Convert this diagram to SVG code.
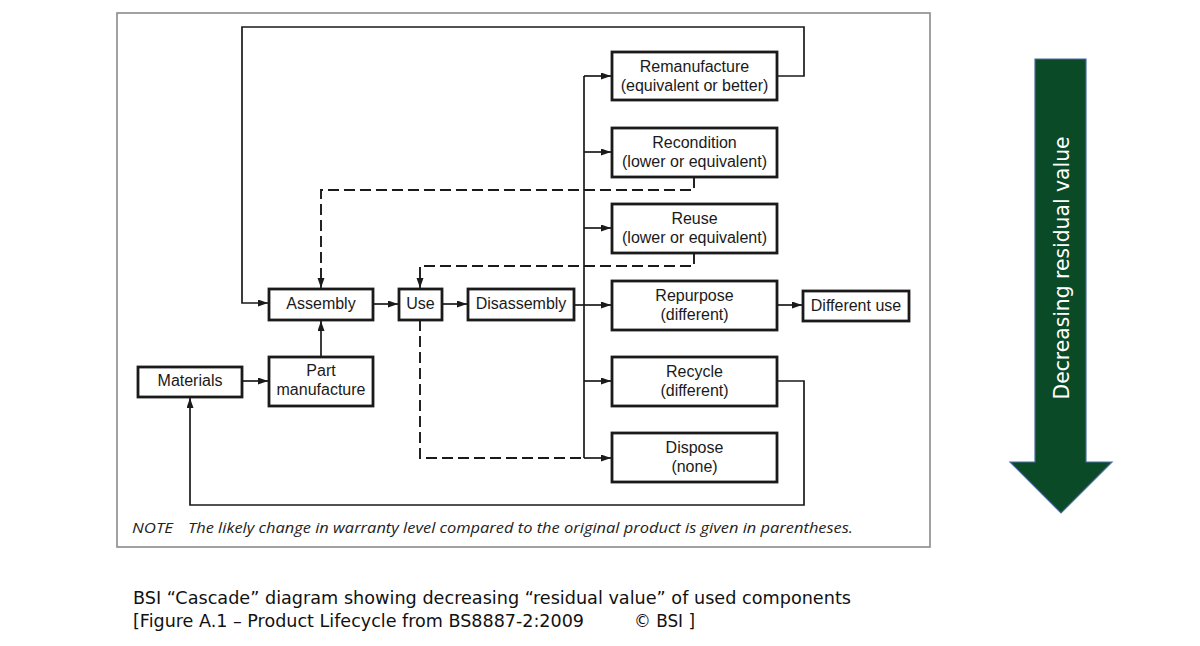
<svg xmlns="http://www.w3.org/2000/svg" width="1200" height="646" viewBox="0 0 1200 646">
<style>
.box{fill:#fff;stroke:#1a1a1a;stroke-width:2.8}
.t{font-family:"Liberation Sans",Arial,sans-serif;font-size:16px;fill:#1a1a1a;text-anchor:middle}
.c{fill:none;stroke:#1a1a1a;stroke-width:1.7}
.d{fill:none;stroke:#1a1a1a;stroke-width:1.9;stroke-dasharray:11 5}
.cap{font-family:"DejaVu Sans",Verdana,sans-serif;font-size:18.5px;fill:#111}
</style>
<defs>
<marker id="ah" markerUnits="userSpaceOnUse" markerWidth="11" markerHeight="8" refX="10" refY="3.5" orient="auto">
<path d="M0,0 L10,3.5 L0,7 z" fill="#1a1a1a"/>
</marker>
</defs>
<rect width="1200" height="646" fill="#fff"/>
<rect x="117" y="13" width="813" height="534" fill="none" stroke="#8a8a8a" stroke-width="1.6"/>

<g id="connectors">
<path class="c" d="M777,76 H804 V27 H242 V303 H268" marker-end="url(#ah)"/>
<path class="c" d="M373,304 H398" marker-end="url(#ah)"/>
<path class="c" d="M442,304 H467" marker-end="url(#ah)"/>
<path class="c" d="M574,305 H584"/>
<path class="c" d="M584,76 V458"/>
<path class="c" d="M584,76 H611" marker-end="url(#ah)"/>
<path class="c" d="M584,152 H611" marker-end="url(#ah)"/>
<path class="c" d="M584,228 H611" marker-end="url(#ah)"/>
<path class="c" d="M584,305 H611" marker-end="url(#ah)"/>
<path class="c" d="M584,381 H611" marker-end="url(#ah)"/>
<path class="c" d="M584,458 H611" marker-end="url(#ah)"/>
<path class="d" d="M694,177 V190 H321 V278"/>
<path class="c" d="M321,278 V288" marker-end="url(#ah)"/>
<path class="d" d="M694,253 V266 H420 V278"/>
<path class="c" d="M420,278 V288" marker-end="url(#ah)"/>
<path class="d" d="M420,320 V458 H584"/>
<path class="c" d="M321,357 V321" marker-end="url(#ah)"/>
<path class="c" d="M242,381 H268" marker-end="url(#ah)"/>
<path class="c" d="M777,381 H804 V505 H190 V398" marker-end="url(#ah)"/>
<path class="c" d="M777,305 H802" marker-end="url(#ah)"/>
</g>

<g id="remanufacture"><rect class="box" x="612" y="52" width="165" height="48"/><text class="t" x="694.5" y="71.5">Remanufacture</text><text class="t" x="694.5" y="91">(equivalent or better)</text></g>
<g id="recondition"><rect class="box" x="612" y="128" width="165" height="49"/><text class="t" x="694.5" y="147.5">Recondition</text><text class="t" x="694.5" y="167">(lower or equivalent)</text></g>
<g id="reuse"><rect class="box" x="612" y="204" width="165" height="49"/><text class="t" x="694.5" y="223.5">Reuse</text><text class="t" x="694.5" y="243">(lower or equivalent)</text></g>
<g id="repurpose"><rect class="box" x="612" y="281" width="165" height="49"/><text class="t" x="694.5" y="300.5">Repurpose</text><text class="t" x="694.5" y="320">(different)</text></g>
<g id="recycle"><rect class="box" x="612" y="357" width="165" height="49"/><text class="t" x="694.5" y="376.5">Recycle</text><text class="t" x="694.5" y="396">(different)</text></g>
<g id="dispose"><rect class="box" x="612" y="433" width="165" height="49"/><text class="t" x="694.5" y="452.5">Dispose</text><text class="t" x="694.5" y="472">(none)</text></g>
<g id="different-use"><rect class="box" x="803" y="291" width="106" height="30"/><text class="t" x="856" y="311">Different use</text></g>
<g id="assembly"><rect class="box" x="269" y="289" width="104" height="31"/><text class="t" x="321" y="309">Assembly</text></g>
<g id="use"><rect class="box" x="399" y="289" width="43" height="31"/><text class="t" x="420.5" y="309">Use</text></g>
<g id="disassembly"><rect class="box" x="468" y="289" width="106" height="31"/><text class="t" x="521" y="309">Disassembly</text></g>
<g id="part-manufacture"><rect class="box" x="269" y="357" width="104" height="49"/><text class="t" x="321" y="376">Part</text><text class="t" x="321" y="395">manufacture</text></g>
<g id="materials"><rect class="box" x="138" y="367" width="104" height="30"/><text class="t" x="190" y="386">Materials</text></g>

<g id="note" font-family="'Open Sans','Noto Sans',sans-serif" font-style="italic" font-size="14.5" fill="#222">
<text x="132" y="533" textLength="41" lengthAdjust="spacingAndGlyphs">NOTE</text>
<text x="188" y="533" textLength="665" lengthAdjust="spacingAndGlyphs">The likely change in warranty level compared to the original product is given in parentheses.</text>
</g>

<g id="residual-arrow">
<polygon points="1035,59 1086,59 1086,462 1112,462 1061,513 1010,462 1035,462" fill="#0b4a26" stroke="#4a6aa0" stroke-width="1.2"/>
<text transform="translate(1069,268) rotate(-90)" text-anchor="middle" font-family="'DejaVu Sans',Verdana,sans-serif" font-size="22" fill="#fff" textLength="263" lengthAdjust="spacingAndGlyphs">Decreasing residual value</text>
</g>

<g id="caption">
<text class="cap" x="133" y="604" textLength="718" lengthAdjust="spacingAndGlyphs">BSI “Cascade” diagram showing decreasing “residual value” of used components</text>
<text class="cap" x="133" y="627" textLength="451" lengthAdjust="spacingAndGlyphs">[Figure A.1 – Product Lifecycle from BS8887-2:2009</text>
<text class="cap" x="634" y="627" textLength="61" lengthAdjust="spacingAndGlyphs">© BSI ]</text>
</g>
</svg>
